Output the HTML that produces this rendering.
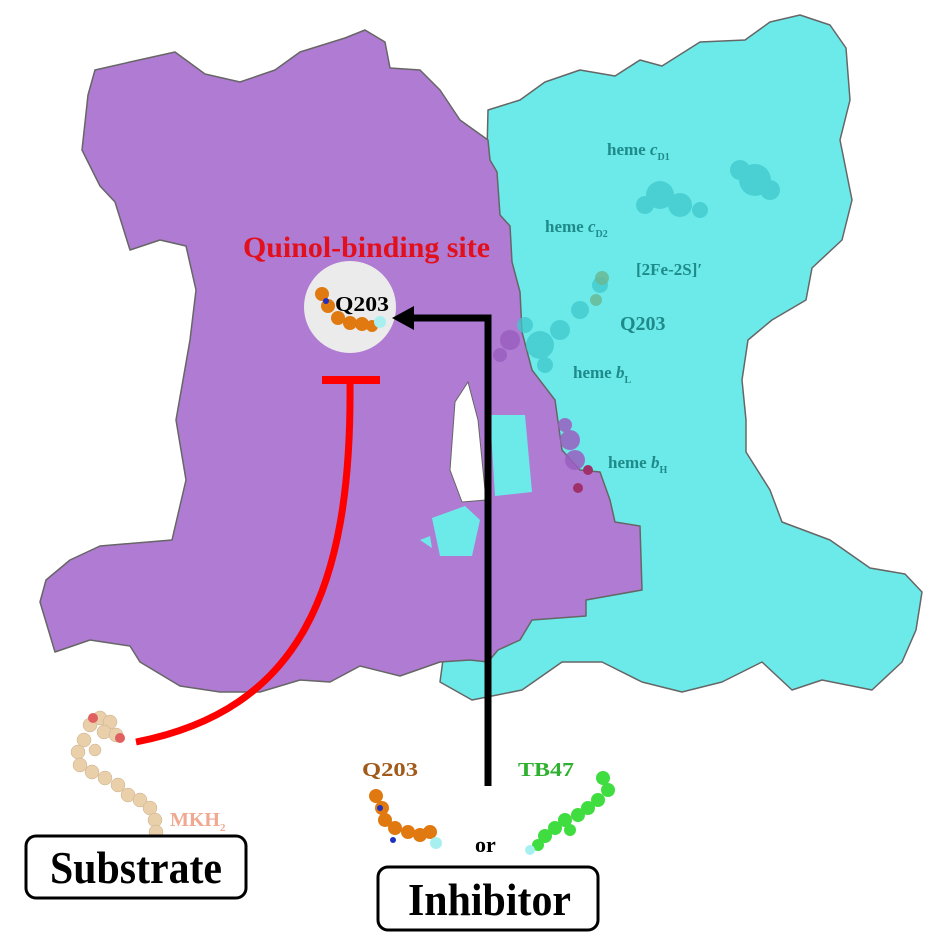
<!DOCTYPE html>
<html><head><meta charset="utf-8"><style>
html,body{margin:0;padding:0;background:#fff;width:943px;height:943px;overflow:hidden}
svg{display:block}
text{font-family:"Liberation Serif",serif;font-weight:bold}
</style></head><body>
<svg width="943" height="943" viewBox="0 0 943 943" xmlns="http://www.w3.org/2000/svg">
<path fill="#6ceaea" stroke="#666" stroke-width="1.5" stroke-linejoin="round" d="M488,110 L520,100 L545,82 L580,70 L615,76 L640,60 L662,66 L700,42 L745,40 L770,22 L800,15 L830,25 L846,48 L850,100 L840,140 L852,200 L842,240 L812,268 L806,300 L772,320 L748,340 L742,380 L746,420 L746,452 L770,490 L782,522 L830,540 L870,568 L905,574 L922,592 L916,630 L902,662 L872,690 L822,680 L792,690 L762,662 L722,682 L682,692 L642,682 L602,662 L562,662 L522,690 L472,700 L440,682 L444,652 L488,648 L488,600 L480,450 Z"/>
<path fill="#b07bd3" stroke="#666" stroke-width="1.5" stroke-linejoin="round" d="M88,95 L95,70 L130,62 L175,52 L205,74 L240,82 L275,70 L300,52 L345,38 L365,30 L385,42 L390,68 L420,70 L440,90 L460,120 L488,140 L490,160 L497,172 L500,215 L510,226 L512,262 L520,292 L522,332 L532,370 L555,400 L562,450 L580,470 L600,472 L610,500 L615,522 L640,526 L642,590 L586,600 L586,616 L532,620 L520,640 L498,650 L488,662 L470,660 L440,662 L400,676 L360,666 L330,682 L300,680 L260,692 L220,692 L180,686 L140,662 L130,646 L90,640 L55,652 L40,602 L46,580 L70,560 L100,546 L172,540 L186,480 L176,420 L190,340 L196,290 L186,246 L160,240 L130,250 L115,202 L100,186 L82,150 Z"/>
<path fill="#fff" stroke="#666" stroke-width="1" d="M455,402 L468,382 L478,420 L486,500 L462,502 L450,470 Z"/>
<path fill="#6ceaea" d="M490,415 L525,415 L532,492 L495,496 Z"/>
<path fill="#6ceaea" d="M432,518 L465,506 L480,520 L472,556 L440,556 Z"/>
<path fill="#6ceaea" d="M420,540 L430,536 L432,548 Z"/>
<g fill="#3fc8cc" opacity="0.75">
<circle cx="660" cy="195" r="14"/><circle cx="680" cy="205" r="12"/><circle cx="645" cy="205" r="9"/><circle cx="700" cy="210" r="8"/>
<circle cx="755" cy="180" r="16"/><circle cx="740" cy="170" r="10"/><circle cx="770" cy="190" r="10"/>
<circle cx="540" cy="345" r="14"/><circle cx="560" cy="330" r="10"/><circle cx="580" cy="310" r="9"/><circle cx="600" cy="285" r="8"/><circle cx="525" cy="325" r="8"/><circle cx="545" cy="365" r="8"/>
</g>
<g fill="#9a5fc0" opacity="0.85">
<circle cx="510" cy="340" r="10"/><circle cx="500" cy="355" r="7"/><circle cx="570" cy="440" r="10"/><circle cx="575" cy="460" r="10"/><circle cx="565" cy="425" r="7"/>
</g>
<circle cx="578" cy="488" r="5" fill="#a0306a"/><circle cx="588" cy="470" r="5" fill="#a0306a"/>
<g fill="#6ab890" opacity="0.8"><circle cx="602" cy="278" r="7"/><circle cx="596" cy="300" r="6"/></g>
<g fill="#1f8a8a" font-size="17">
<text x="607" y="155">heme <tspan font-style="italic">c</tspan><tspan font-size="10" dy="5">D1</tspan></text>
<text x="545" y="232">heme <tspan font-style="italic">c</tspan><tspan font-size="10" dy="5">D2</tspan></text>
<text x="636" y="275">[2Fe-2S]′</text>
<text x="620" y="330" font-size="20">Q203</text>
<text x="573" y="378">heme <tspan font-style="italic">b</tspan><tspan font-size="10" dy="5">L</tspan></text>
<text x="608" y="468">heme <tspan font-style="italic">b</tspan><tspan font-size="10" dy="5">H</tspan></text>
</g>
<text x="243" y="257" fill="#e2101c" font-size="30" textLength="247" lengthAdjust="spacingAndGlyphs">Quinol-binding site</text>
<ellipse cx="350" cy="307" rx="46" ry="46" fill="#ebebeb"/>
<g fill="#e07a10"><circle cx="322" cy="294" r="7"/><circle cx="328" cy="306" r="7"/><circle cx="338" cy="318" r="7"/><circle cx="350" cy="323" r="7"/><circle cx="362" cy="324" r="7"/><circle cx="372" cy="326" r="6"/></g>
<circle cx="380" cy="322" r="6" fill="#a8f0f0"/><circle cx="326" cy="301" r="3" fill="#2030c0"/>
<text x="335" y="311" fill="#000" font-size="21" textLength="54" lengthAdjust="spacingAndGlyphs">Q203</text>
<line x1="322" y1="380" x2="380" y2="380" stroke="#f00" stroke-width="8"/>
<path d="M350,382 C352,590 300,710 136,742" fill="none" stroke="#f00" stroke-width="7"/>
<path d="M488,786 L488,318 L410,318" fill="none" stroke="#000" stroke-width="7"/>
<path d="M392,318 L414,306 L414,330 Z" fill="#000"/>
<g fill="#e9cfaa" stroke="#c8ad88" stroke-width="0.5">
<circle cx="90" cy="725" r="7"/><circle cx="100" cy="718" r="7"/><circle cx="110" cy="722" r="7"/><circle cx="104" cy="732" r="7"/><circle cx="116" cy="735" r="7"/><circle cx="84" cy="740" r="7"/><circle cx="78" cy="752" r="7"/><circle cx="80" cy="765" r="7"/><circle cx="92" cy="772" r="7"/><circle cx="105" cy="778" r="7"/><circle cx="118" cy="785" r="7"/><circle cx="128" cy="795" r="7"/><circle cx="140" cy="800" r="7"/><circle cx="150" cy="808" r="7"/><circle cx="155" cy="820" r="7"/><circle cx="156" cy="832" r="7"/><circle cx="95" cy="750" r="6"/>
</g>
<circle cx="93" cy="718" r="5" fill="#e06060"/><circle cx="120" cy="738" r="5" fill="#e06060"/>
<text x="170" y="826" fill="#f0a890" font-size="20" font-weight="normal">MKH<tspan font-size="11" dy="5">2</tspan></text>
<text x="362" y="776" fill="#a05a1a" font-size="20" font-weight="normal" textLength="56" lengthAdjust="spacingAndGlyphs">Q203</text>
<g fill="#e07a10"><circle cx="376" cy="796" r="7"/><circle cx="382" cy="808" r="7"/><circle cx="385" cy="820" r="7"/><circle cx="395" cy="828" r="7"/><circle cx="408" cy="832" r="7"/><circle cx="420" cy="835" r="7"/><circle cx="430" cy="832" r="7"/></g>
<circle cx="380" cy="808" r="3" fill="#2030c0"/><circle cx="393" cy="840" r="3" fill="#2030c0"/><circle cx="436" cy="843" r="6" fill="#a8f0f0"/>
<text x="518" y="776" fill="#30b030" font-size="20" font-weight="normal" textLength="56" lengthAdjust="spacingAndGlyphs">TB47</text>
<g fill="#40dd40"><circle cx="603" cy="778" r="7"/><circle cx="608" cy="790" r="7"/><circle cx="598" cy="800" r="7"/><circle cx="588" cy="808" r="7"/><circle cx="578" cy="815" r="7"/><circle cx="565" cy="820" r="7"/><circle cx="555" cy="828" r="7"/><circle cx="545" cy="836" r="7"/><circle cx="538" cy="845" r="6"/><circle cx="570" cy="830" r="6"/></g>
<circle cx="530" cy="850" r="5" fill="#a8f0f0"/>
<text x="475" y="852" fill="#000" font-size="22">or</text>
<rect x="26" y="836" width="220" height="62" rx="10" fill="#fff" stroke="#000" stroke-width="3"/>
<text x="50" y="883" fill="#000" font-size="46" textLength="172" lengthAdjust="spacingAndGlyphs">Substrate</text>
<rect x="378" y="867" width="220" height="63" rx="10" fill="#fff" stroke="#000" stroke-width="3"/>
<text x="408" y="915" fill="#000" font-size="46" textLength="163" lengthAdjust="spacingAndGlyphs">Inhibitor</text>
</svg>
</body></html>
